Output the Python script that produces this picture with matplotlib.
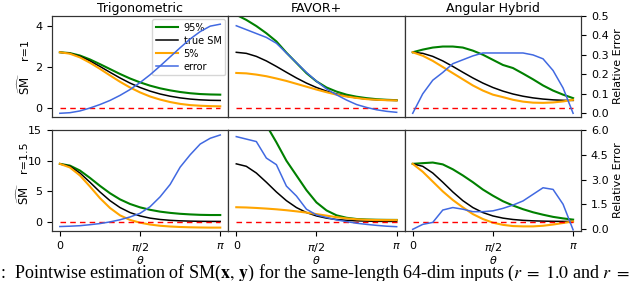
import numpy as np
import matplotlib
matplotlib.use("Agg")
import matplotlib.pyplot as plt

plt.rcParams["mathtext.fontset"] = "dejavusans"

# ---------------- data ----------------
theta = np.linspace(0, np.pi, 17)

methods = ["Trigonometric", "FAVOR+", "Angular Hybrid"]
row_labels = ["r=1", "r=1.5"]

true_r1 = [2.718, 2.667, 2.519, 2.297, 2.028, 1.743, 1.466, 1.215, 1.0,
           0.823, 0.682, 0.574, 0.493, 0.435, 0.397, 0.375, 0.368]
true_r15 = [9.488, 9.087, 7.994, 6.494, 4.909, 3.491, 2.366, 1.551, 1.0,
            0.645, 0.423, 0.286, 0.204, 0.154, 0.125, 0.110, 0.105]

# Trigonometric
trig_hi_r1 = [2.72, 2.68, 2.56, 2.37, 2.14, 1.90, 1.66, 1.44, 1.25, 1.09, 0.96, 0.86, 0.78, 0.72, 0.68, 0.66, 0.65]
trig_lo_r1 = [2.72, 2.65, 2.47, 2.21, 1.91, 1.59, 1.28, 1.00, 0.76, 0.56, 0.41, 0.29, 0.20, 0.14, 0.11, 0.09, 0.08]
trig_err_r1 = [0.000, 0.003, 0.012, 0.027, 0.045, 0.066, 0.092, 0.122, 0.158, 0.198, 0.243, 0.290, 0.337, 0.382, 0.420, 0.448, 0.458]
trig_hi_r15 = [9.49, 9.2, 8.4, 7.2, 5.9, 4.7, 3.7, 2.95, 2.4, 2.0, 1.7, 1.5, 1.35, 1.25, 1.18, 1.15, 1.15]
trig_lo_r15 = [9.49, 8.9, 7.6, 5.8, 3.9, 2.3, 1.1, 0.35, -0.1, -0.4, -0.6, -0.72, -0.8, -0.85, -0.88, -0.9, -0.9]
trig_err_r15 = [0.15, 0.17, 0.2, 0.26, 0.33, 0.43, 0.56, 0.73, 0.95, 1.35, 1.95, 2.7, 3.75, 4.5, 5.15, 5.5, 5.7]

# FAVOR+
fav_hi_r1 = [4.55, 4.3, 4.0, 3.65, 3.25, 2.7, 2.2, 1.7, 1.3, 1.0, 0.8, 0.65, 0.55, 0.48, 0.43, 0.4, 0.38]
fav_lo_r1 = [1.71, 1.69, 1.63, 1.55, 1.44, 1.32, 1.18, 1.04, 0.9, 0.77, 0.65, 0.56, 0.49, 0.43, 0.4, 0.38, 0.37]
fav_err_r1 = [0.45, 0.43, 0.41, 0.39, 0.36, 0.31, 0.26, 0.21, 0.165, 0.125, 0.095, 0.068, 0.045, 0.03, 0.018, 0.01, 0.005]
fav_hi_r15 = [22.0, 19.0, 17.0, 15.8, 13.0, 10.0, 7.6, 5.2, 3.2, 1.9, 1.1, 0.7, 0.5, 0.42, 0.38, 0.36, 0.35]
fav_lo_r15 = [2.42, 2.38, 2.3, 2.2, 2.08, 1.93, 1.75, 1.55, 1.3, 1.05, 0.8, 0.6, 0.45, 0.37, 0.33, 0.32, 0.32]
fav_err_r15 = [5.6, 5.45, 5.3, 4.3, 3.9, 2.6, 2.0, 1.2, 0.85, 0.7, 0.55, 0.45, 0.35, 0.28, 0.22, 0.17, 0.14]

# Angular Hybrid
ang_hi_r1 = [2.72, 2.85, 2.95, 3.0, 3.0, 2.95, 2.8, 2.6, 2.35, 2.1, 1.95, 1.68, 1.4, 1.1, 0.85, 0.65, 0.48]
ang_lo_r1 = [2.72, 2.55, 2.3, 2.0, 1.7, 1.4, 1.1, 0.85, 0.65, 0.53, 0.4, 0.31, 0.26, 0.25, 0.27, 0.32, 0.4]
ang_err_r1 = [0.0, 0.1, 0.17, 0.21, 0.255, 0.275, 0.295, 0.31, 0.31, 0.31, 0.31, 0.31, 0.3, 0.28, 0.22, 0.13, 0.0]
ang_hi_r15 = [9.49, 9.6, 9.7, 9.4, 8.6, 7.6, 6.5, 5.3, 4.3, 3.4, 2.7, 2.1, 1.6, 1.2, 0.85, 0.6, 0.4]
ang_lo_r15 = [9.49, 8.2, 6.6, 5.0, 3.6, 2.4, 1.3, 0.5, -0.1, -0.45, -0.65, -0.7, -0.7, -0.6, -0.4, -0.15, 0.1]
ang_err_r15 = [-0.02, 0.28, 0.4, 1.15, 1.3, 1.2, 1.05, 1.05, 1.1, 1.25, 1.45, 1.7, 2.1, 2.5, 2.4, 1.5, -0.05]

hi = [[trig_hi_r1, fav_hi_r1, ang_hi_r1], [trig_hi_r15, fav_hi_r15, ang_hi_r15]]
lo = [[trig_lo_r1, fav_lo_r1, ang_lo_r1], [trig_lo_r15, fav_lo_r15, ang_lo_r15]]
err = [[trig_err_r1, fav_err_r1, ang_err_r1], [trig_err_r15, fav_err_r15, ang_err_r15]]
true = [true_r1, true_r15]

left_ylims = [(-0.44, 4.49), (-1.45, 15.0)]
left_ticks = [[0, 2, 4], [0, 5, 10, 15]]
right_ylims = [(-0.019, 0.5), (-0.12, 6.0)]
right_ticks = [[0.0, 0.1, 0.2, 0.3, 0.4, 0.5], [0.0, 1.5, 3.0, 4.5, 6.0]]
xtick_vals = [0, np.pi / 2, np.pi]
xtick_labels = ["0", r"$\pi/2$", r"$\pi$"]

caption = (r":  Pointwise estimation of SM($\mathbf{x},\,\mathbf{y}$) for the "
           r"same-length 64-dim inputs ($r\;=\;1.0$ and $r\;=$")

# ---------------- figure ----------------
fig = plt.figure(figsize=(6.4, 2.81), dpi=100)
gs = fig.add_gridspec(2, 3, left=0.081, right=0.908, top=0.943, bottom=0.178,
                      hspace=0.129, wspace=0.0)

FS_TICK = 8
for i in range(2):
    for j in range(3):
        ax = fig.add_subplot(gs[i, j])
        ax2 = ax.twinx()
        l1, = ax.plot(theta, hi[i][j], color="green", lw=1.5, label="95%")
        l2, = ax.plot(theta, true[i], color="black", lw=1.1, label="true SM")
        l3, = ax.plot(theta, lo[i][j], color="orange", lw=1.5, label="5%")
        ax.hlines(0, 0, np.pi, colors="red", linestyles=(0, (4, 3)), lw=1.0)
        l4, = ax2.plot(theta, err[i][j], color="royalblue", lw=1.1, label="error")
        ax.set_ylim(*left_ylims[i])
        ax2.set_ylim(*right_ylims[i])
        ax.set_xticks(xtick_vals)
        if i == 1:
            ax.set_xticklabels(xtick_labels, fontsize=FS_TICK)
            ax.set_xlabel(r"$\theta$", fontsize=FS_TICK, labelpad=0)
        else:
            ax.tick_params(axis="x", bottom=False, labelbottom=False)
            ax.set_title(methods[j], fontsize=9, pad=3)
        ax.set_yticks(left_ticks[i])
        if j == 0:
            ax.tick_params(axis="y", labelsize=FS_TICK)
        else:
            ax.tick_params(axis="y", left=False, labelleft=False)
        ax2.set_yticks(right_ticks[i])
        if j == 2:
            ax2.set_yticklabels([f"{v:.1f}" for v in right_ticks[i]])
            ax2.tick_params(axis="y", labelsize=FS_TICK)
            ax2.set_ylabel("Relative Error", fontsize=FS_TICK, labelpad=3)
        else:
            ax2.tick_params(axis="y", right=False, labelright=False)
        for a in (ax, ax2):
            for s in a.spines.values():
                s.set_linewidth(0.8)
                s.set_color("#333333")
        if i == 0 and j == 0:
            ax.legend(handles=[l1, l2, l3, l4], loc="upper right", fontsize=7,
                      handlelength=2.2, labelspacing=0.3, borderpad=0.4,
                      handletextpad=0.6, borderaxespad=0.3)

# row labels
W, H = 640.0, 281.0
fig.text(25 / W, 1 - 84 / H, r"$\widehat{\mathrm{SM}}$", rotation=90,
         ha="center", va="center", fontsize=8.5)
fig.text(25 / W, 1 - 50 / H, row_labels[0], rotation=90,
         ha="center", va="center", fontsize=FS_TICK)
fig.text(24 / W, 1 - 194 / H, r"$\widehat{\mathrm{SM}}$", rotation=90,
         ha="center", va="center", fontsize=8.5)
fig.text(24 / W, 1 - 157 / H, row_labels[1], rotation=90,
         ha="center", va="center", fontsize=FS_TICK)

# caption (cut off at the right as in the reference)
fig.text(0.0, 1 - 278 / H, caption, ha="left", va="baseline",
         fontsize=13, family="Liberation Serif", math_fontfamily="stix")

fig.savefig("out.png", dpi=100)
